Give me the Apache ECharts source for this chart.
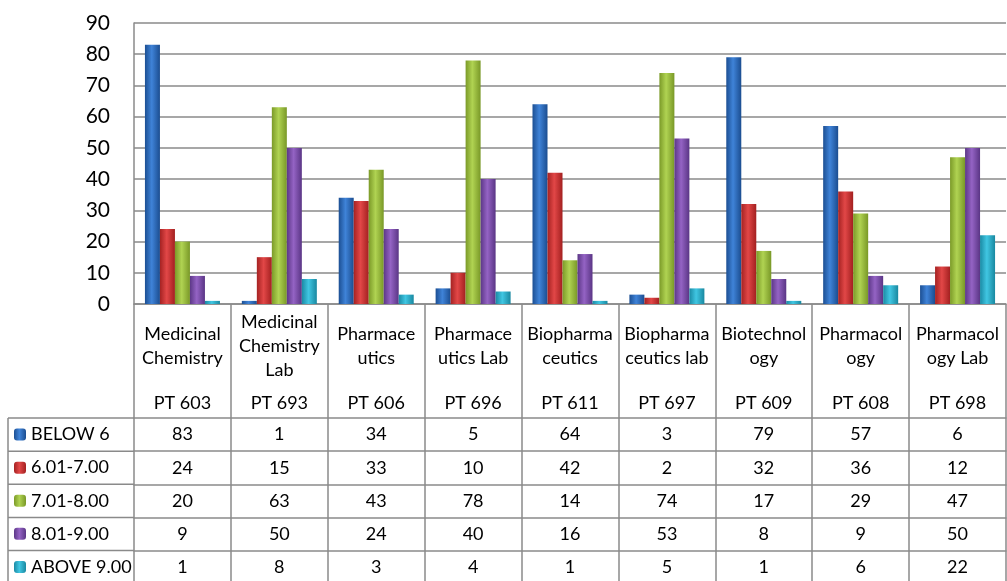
<!DOCTYPE html>
<html><head><meta charset="utf-8">
<script src="https://cdn.jsdelivr.net/npm/echarts@6/dist/echarts.min.js"></script>
<style>html,body{margin:0;padding:0;background:#fff}#c{width:1007px;height:581px}</style>
</head><body><div id="c"></div>
<script>
const courseNames = ['Medicinal\nChemistry','Medicinal\nChemistry\nLab','Pharmace\nutics','Pharmace\nutics Lab','Biopharma\nceutics','Biopharma\nceutics lab','Biotechnol\nogy','Pharmacol\nogy','Pharmacol\nogy Lab'];
const courseCodes = ['PT 603','PT 693','PT 606','PT 696','PT 611','PT 697','PT 609','PT 608','PT 698'];
const seriesNames = ['BELOW 6','6.01-7.00','7.01-8.00','8.01-9.00','ABOVE 9.00'];
const below6   = [83, 1, 34, 5, 64, 3, 79, 57, 6];
const g601to700 = [24, 15, 33, 10, 42, 2, 32, 36, 12];
const g701to800 = [20, 63, 43, 78, 14, 74, 17, 29, 47];
const g801to900 = [9, 50, 24, 40, 16, 53, 8, 9, 50];
const above900 = [1, 8, 3, 4, 1, 5, 1, 6, 22];
const yMin = 0, yMax = 90, yStep = 10;

const seriesValues = [below6, g601to700, g701to800, g801to900, above900];
const palette = [
  ['#1c4f93', '#3f83d8', '#1b4d90'],
  ['#a52222', '#e24747', '#a32020'],
  ['#7b9a28', '#b0d352', '#799827'],
  ['#5c3787', '#9463c4', '#5a3585'],
  ['#1a8aa4', '#40c6e2', '#1988a0']
];
const FONT = 'Lato';
const GRID_LEFT = 134, GRID_TOP = 23, GRID_BOTTOM_Y = 304;
const lineColor = '#8a8a8a';

function grad(c) {
  return new echarts.graphic.LinearGradient(0, 0, 1, 0, [
    {offset: 0, color: c[0]}, {offset: 0.45, color: c[1]}, {offset: 1, color: c[2]}
  ]);
}

const rowTops = [418, 451.2, 484.3, 517.4, 550.6];
const rowH = 33.1;

const xAxes = [
  {
    type: 'category', data: courseNames, position: 'bottom', offset: 0,
    axisLine: {show: true, lineStyle: {color: lineColor, width: 1.5}},
    axisTick: {show: true, length: rowTops[0] - GRID_BOTTOM_Y, interval: 0, lineStyle: {color: lineColor, width: 1.5}},
    axisLabel: {interval: 0, margin: 42, verticalAlign: 'middle', lineHeight: 24, fontSize: 18, fontFamily: FONT, color: '#000'}
  },
  {
    type: 'category', data: courseNames, position: 'bottom', offset: 0,
    axisLine: {show: false}, axisTick: {show: false},
    axisLabel: {interval: 0, margin: 99, verticalAlign: 'middle', fontSize: 18, fontFamily: FONT, color: '#000',
      formatter: (v, i) => courseCodes[i]}
  }
];
seriesValues.forEach((vals, r) => {
  xAxes.push({
    type: 'category', data: courseNames, position: 'bottom', offset: rowTops[r] - GRID_BOTTOM_Y,
    axisLine: {show: true, lineStyle: {color: lineColor, width: 1.5}},
    axisTick: {show: true, length: rowH + 2, interval: 0, lineStyle: {color: lineColor, width: 1.5}},
    axisLabel: {interval: 0, margin: rowH / 2, verticalAlign: 'middle', fontSize: 18, fontFamily: FONT, color: '#000',
      formatter: (v, i) => String(vals[i])}
  });
});

const graphics = [];
rowTops.forEach(y => {
  graphics.push({type: 'line', shape: {x1: 8, y1: y, x2: GRID_LEFT, y2: y}, style: {stroke: lineColor, lineWidth: 1.5}});
});
graphics.push({type: 'line', shape: {x1: 8, y1: rowTops[0], x2: 8, y2: 581}, style: {stroke: lineColor, lineWidth: 1.5}});

const chart = echarts.init(document.getElementById('c'), null, {renderer: 'canvas'});
chart.setOption({
  animation: false,
  backgroundColor: '#fff',
  grid: {left: GRID_LEFT, right: 1, top: GRID_TOP, bottom: 581 - GRID_BOTTOM_Y, containLabel: false},
  legend: {
    data: seriesNames, orient: 'vertical', left: 14, top: rowTops[0] + rowH / 2 - 10, padding: 0,
    itemWidth: 12, itemHeight: 12, itemGap: rowH - 20, selectedMode: false,
    textStyle: {fontSize: 18, lineHeight: 20, fontFamily: FONT, color: '#000'}
  },
  xAxis: xAxes,
  yAxis: {
    type: 'value', min: yMin, max: yMax, interval: yStep,
    axisLine: {show: true, lineStyle: {color: lineColor, width: 1.5}},
    axisTick: {show: false},
    splitLine: {show: true, lineStyle: {color: lineColor, width: 1.5}},
    axisLabel: {margin: 24, fontSize: 21, fontFamily: FONT, color: '#000'}
  },
  graphic: graphics,
  series: seriesNames.map((n, i) => ({
    name: n, type: 'bar', xAxisIndex: 0, data: seriesValues[i],
    barWidth: 15, barGap: '0%',
    itemStyle: {color: grad(palette[i])}
  }))
});
</script></body></html>
